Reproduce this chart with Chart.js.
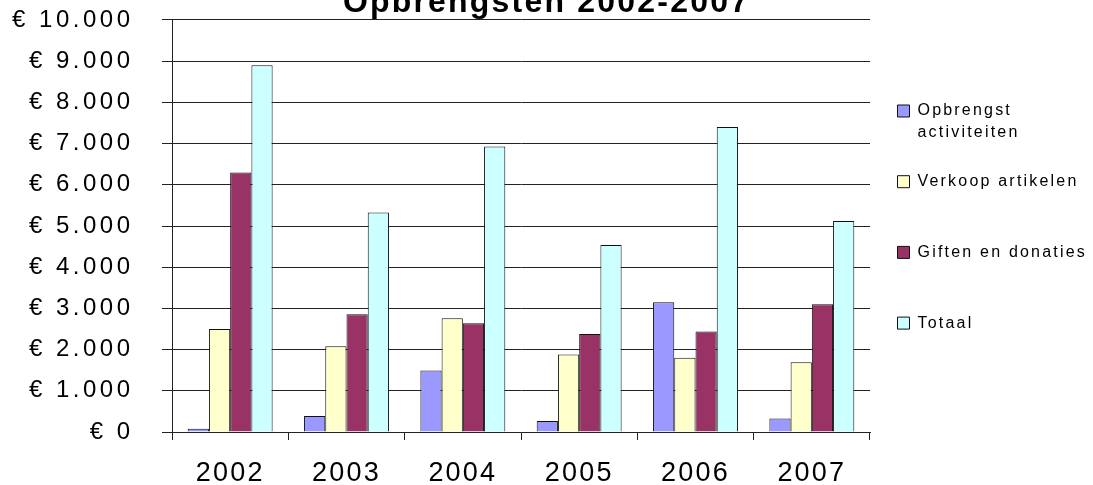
<!DOCTYPE html>
<html>
<head>
<meta charset="utf-8">
<script src="https://cdn.jsdelivr.net/npm/chart.js@4/dist/chart.umd.min.js"></script>
<style>
  body { margin: 0; background: #fff; }
  #wrap { width: 1093px; height: 485px; position: relative; }
</style>
</head>
<body>
<div id="wrap"><canvas id="canvas"></canvas></div>
<script>
// values
var years = ['2002', '2003', '2004', '2005', '2006', '2007'];
var opbrengst = [80, 390, 1490, 270, 3150, 330];
var verkoop = [2500, 2080, 2760, 1880, 1800, 1690];
var giften = [6300, 2860, 2640, 2380, 2440, 3100];
var totaal = [8900, 5330, 6930, 4540, 7400, 5120];
var yTickLabels = ['€ 0', '€ 1.000', '€ 2.000', '€ 3.000', '€ 4.000', '€ 5.000',
                   '€ 6.000', '€ 7.000', '€ 8.000', '€ 9.000', '€ 10.000'];
var legendLines = [['Opbrengst', 'activiteiten'], ['Verkoop artikelen', ''],
                   ['Giften en donaties', ''], ['Totaal', '']];

// the text in the picture is drawn wide, so space the letters out
var spacing = {
  id: 'spacing',
  beforeLayout: function(chart) { chart.ctx.letterSpacing = '2.2px'; },
  beforeDraw: function(chart) { chart.ctx.letterSpacing = '2.2px'; },
  afterDatasetsDraw: function(chart) { chart.ctx.letterSpacing = '3.5px'; },
  afterDraw: function(chart) { chart.ctx.letterSpacing = '0px'; }
};

var gridColor = '#222';
var ctx = document.getElementById('canvas').getContext('2d');
var config = {
  type: 'bar',
  data: {
    labels: years,
    datasets: [{
      label: 'Opbrengst activiteiten',
      data: opbrengst,
      backgroundColor: '#9999FF'
    }, {
      label: 'Verkoop artikelen',
      data: verkoop,
      backgroundColor: '#FFFFCC'
    }, {
      label: 'Giften en donaties',
      data: giften,
      backgroundColor: '#993366'
    }, {
      label: 'Totaal',
      data: totaal,
      backgroundColor: '#CCFFFF'
    }]
  },
  options: {
    responsive: true,
    maintainAspectRatio: false,
    animation: false,
    datasets: {
      bar: {
        borderColor: '#111',
        borderWidth: 1,
        categoryPercentage: 0.73,
        barPercentage: 1.0
      }
    },
    layout: { padding: 0 },
    plugins: {
      tooltip: { enabled: false },
      title: {
        display: true,
        text: 'Opbrengsten 2002-2007',
        color: '#000',
        font: { family: 'Liberation Sans', size: 32, weight: 'bold', lineHeight: 1.2 },
        padding: { top: -15.8, bottom: -2.6 }
      },
      legend: {
        position: 'right',
        align: 'start',
        maxWidth: 223,
        title: {
          display: true,
          text: '',
          font: { size: 10, lineHeight: 1.2 },
          padding: { top: 63.5, bottom: 0 }
        },
        labels: {
          color: '#000',
          boxWidth: 12,
          boxHeight: 12,
          padding: 27.5,
          font: { family: 'Liberation Sans', size: 16, lineHeight: 1.35 },
          generateLabels: function(chart) {
            var items = Chart.defaults.plugins.legend.labels.generateLabels(chart);
            items.forEach(function(it, i) {
              it.text = legendLines[i];
              it.strokeStyle = '#111';
              it.lineWidth = 1;
            });
            return items;
          }
        }
      }
    },
    scales: {
      x: {
        afterFit: function(scale) {
          scale.height = 53;
          scale.paddingLeft = 0;
          scale.paddingRight = 0;
        },
        grid: {
          drawOnChartArea: false,
          drawTicks: true,
          tickLength: 8,
          color: gridColor
        },
        border: { color: gridColor },
        ticks: {
          color: '#000',
          padding: 17,
          font: { family: 'Liberation Sans', size: 27, lineHeight: 1.2 }
        }
      },
      y: {
        min: 0,
        max: 10000,
        afterFit: function(scale) {
          scale.width = 172;
          scale.paddingTop = 14;
          scale.paddingBottom = 14;
        },
        grid: {
          color: gridColor,
          drawTicks: true,
          tickLength: 10
        },
        border: { color: gridColor },
        ticks: {
          stepSize: 1000,
          color: '#000',
          padding: 28.5,
          z: 1,
          font: { family: 'Liberation Sans', size: 24, lineHeight: 1.2 },
          callback: function(value, index) { return yTickLabels[index]; }
        }
      }
    }
  },
  plugins: [spacing]
};

var chart = new Chart(ctx, config);
</script>
</body>
</html>
